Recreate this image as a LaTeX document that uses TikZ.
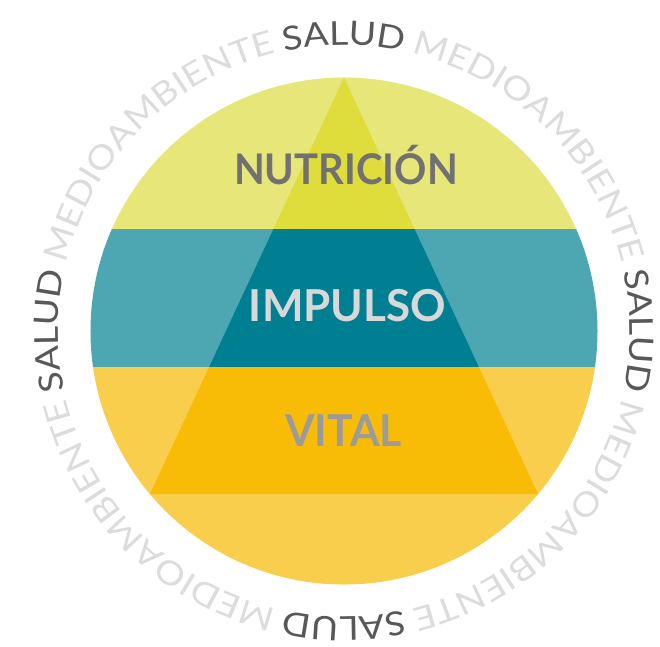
\documentclass[tikz,border=0pt]{standalone}
\usepackage{fontspec}
\setmainfont{Lato}
\newfontfamily\ringfont[FakeStretch=1.13]{Lato}
\usetikzlibrary{decorations.text}

\definecolor{limelight}{HTML}{E6E778}
\definecolor{limedark}{HTML}{DEDD3B}
\definecolor{teallight}{HTML}{4DA7B2}
\definecolor{tealdark}{HTML}{017F92}
\definecolor{goldlight}{HTML}{F9CE4D}
\definecolor{golddark}{HTML}{F9BC06}
\definecolor{saludgray}{HTML}{58585A}
\definecolor{mediogray}{HTML}{DCDCDC}

\newcommand\saludfmt{\ringfont\fontsize{33}{33}\selectfont\color{saludgray}}
\newcommand\mediofmt{\ringfont\fontsize{33}{33}\selectfont\color{mediogray}}

\begin{document}
\begin{tikzpicture}[x=1pt,y=1pt,
    level/.style={font=\fontsize{44}{44}\selectfont\bfseries,anchor=base,inner sep=0pt}]
    \useasboundingbox (-344,-315) rectangle (316,331);
    % bands of the circle
    \begin{scope}
    \clip (0,0) circle (253.5);
    \fill[limelight] (-260,102) rectangle (260,260);
    \fill[teallight] (-260,-36) rectangle (260,102);
    \fill[goldlight] (-260,-260) rectangle (260,-36);
    % the pyramid
    \clip (0,253.5) -- (-194,-163) -- (194,-163) -- cycle;
    \fill[limedark] (-260,102) rectangle (260,260);
    \fill[tealdark] (-260,-36) rectangle (260,102);
    \fill[golddark] (-260,-260) rectangle (260,-36);
    \end{scope}
    \node[level,xscale=0.91,yscale=0.96,text=saludgray!85] (nutricion) at (2,146.7) {NUTRICIÓN};
    \node[level,text=mediogray!110] (impulso) at (3.5,9.3) {IMPULSO};
    \node[level,xscale=0.97,text=saludgray!60] (vital) at (-0.5,-115.7) {VITAL};
    % ring of words
    \foreach \a in {90,0,-90,180}
    {
    \path[decorate,decoration={text along path,text align=center,text={|\saludfmt|SALUD}}]
    ({\a+40}:286) arc[start angle={\a+40},end angle={\a-40},radius=286];
    }
    \foreach \a in {135,45,-45,-135}
    {
    \path[decorate,decoration={text along path,text align=center,text={|\mediofmt|MEDIOAMBIENTE}}]
    ({\a+40}:286) arc[start angle={\a+40},end angle={\a-40},radius=286];
    }
\end{tikzpicture}
\end{document}
